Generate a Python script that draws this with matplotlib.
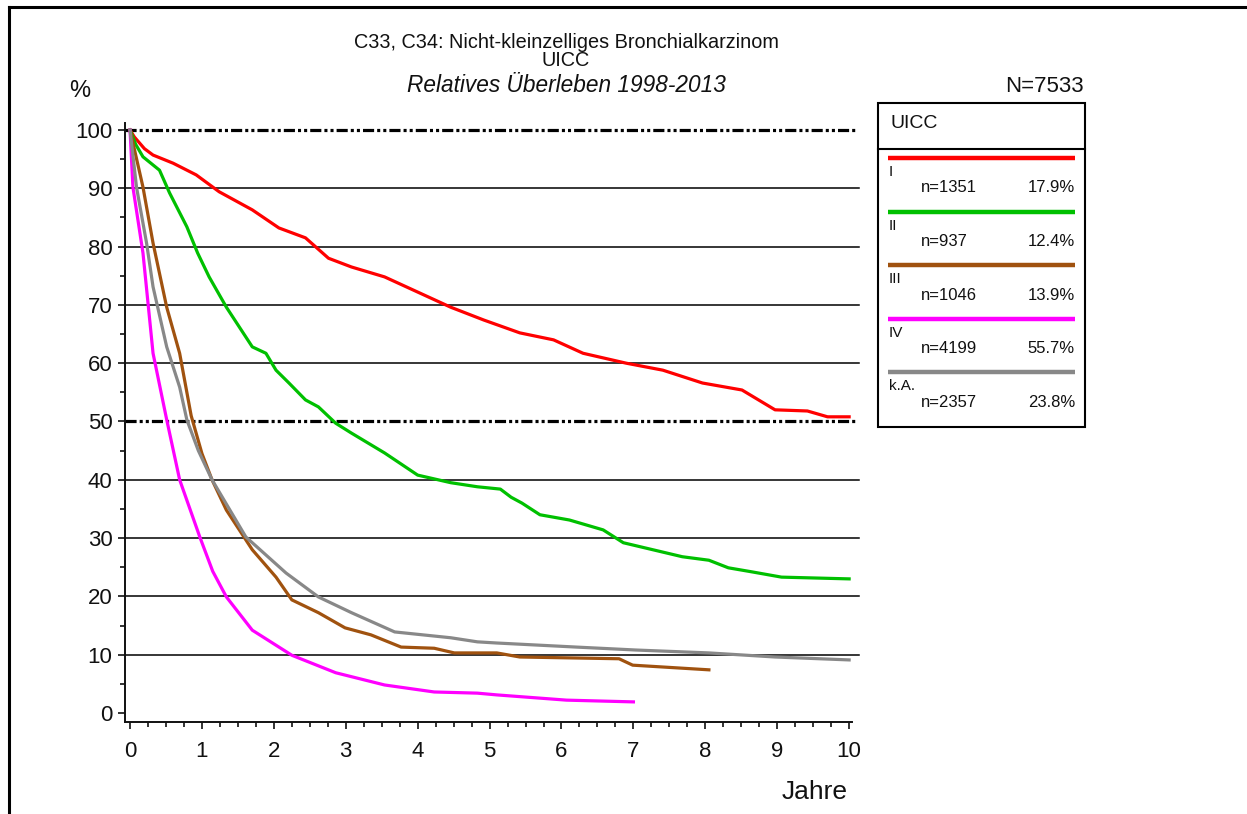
import matplotlib
matplotlib.use("Agg")
import matplotlib.pyplot as plt
from matplotlib.lines import Line2D
from matplotlib.patches import Rectangle
from matplotlib.ticker import MultipleLocator

plt.rcParams['font.family'] = ['Liberation Sans', 'DejaVu Sans']
plt.rcParams['lines.scale_dashes'] = False

# ---------------- data ----------------
title_lines = ["C33, C34: Nicht-kleinzelliges Bronchialkarzinom", "UICC", "Relatives Überleben 1998-2013"]
total_n = "N=7533"
legend_title = "UICC"
stages = ["I", "II", "III", "IV", "k.A."]
stage_n = [1351, 937, 1046, 4199, 2357]
stage_pct = ["17.9%", "12.4%", "13.9%", "55.7%", "23.8%"]
stage_colors = ["#ff0000", "#00c000", "#a0520f", "#ff00ff", "#888888"]

t_I = [0, 0.06, 0.20, 0.32, 0.60, 0.92, 1.24, 1.70, 2.07, 2.44, 2.76, 3.08, 3.54, 4.0, 4.46,
       4.92, 5.42, 5.89, 6.30, 6.90, 7.41, 7.96, 8.51, 8.97, 9.42, 9.70, 10.0]
s_I = [100, 98.8, 96.8, 95.7, 94.3, 92.3, 89.4, 86.3, 83.2, 81.5, 78.0, 76.5, 74.8, 72.2, 69.6,
       67.4, 65.2, 64.0, 61.7, 60.0, 58.8, 56.6, 55.4, 52.0, 51.8, 50.8, 50.8]

t_II = [0, 0.08, 0.18, 0.41, 0.55, 0.79, 0.94, 1.10, 1.34, 1.52, 1.70, 1.89, 2.03, 2.21, 2.44,
        2.62, 2.86, 3.08, 3.54, 4.0, 4.46, 4.83, 5.15, 5.30, 5.45, 5.70, 6.11, 6.58, 6.86, 7.27,
        7.68, 8.05, 8.32, 8.65, 9.06, 10.0]
s_II = [100, 97.5, 95.4, 93.1, 89.2, 83.4, 78.9, 74.8, 69.6, 66.2, 62.8, 61.7, 58.8, 56.6, 53.7,
        52.5, 49.7, 48.0, 44.6, 40.8, 39.5, 38.8, 38.4, 37.0, 36.0, 34.0, 33.1, 31.4, 29.2, 28.0,
        26.8, 26.2, 24.9, 24.2, 23.3, 23.0]

t_III = [0, 0.18, 0.32, 0.51, 0.69, 0.85, 1.00, 1.14, 1.34, 1.70, 2.03, 2.25, 2.62, 2.99, 3.35,
         3.77, 4.23, 4.51, 5.10, 5.42, 6.8, 6.99, 8.05]
s_III = [100, 90.2, 80.6, 69.6, 61.7, 51.0, 44.5, 40.0, 34.8, 28.0, 23.3, 19.4, 17.2, 14.6, 13.4,
         11.3, 11.1, 10.3, 10.3, 9.6, 9.3, 8.2, 7.4]

t_IV = [0, 0.04, 0.18, 0.32, 0.51, 0.69, 0.97, 1.15, 1.34, 1.70, 2.25, 2.86, 3.54, 4.23, 4.83,
        5.10, 6.07, 7.0]
s_IV = [100, 90.2, 78.9, 61.7, 50.3, 40.0, 30.2, 24.3, 19.9, 14.2, 9.9, 6.9, 4.8, 3.6, 3.4,
        3.1, 2.2, 1.9]

t_kA = [0, 0.09, 0.23, 0.32, 0.51, 0.69, 0.79, 0.95, 1.14, 1.61, 2.17, 2.62, 3.08, 3.68, 4.46,
        4.83, 5.10, 6.21, 7.03, 8.05, 8.97, 10.0]
s_kA = [100, 90.2, 80.6, 73.1, 62.8, 55.9, 50.3, 45.0, 40.0, 30.2, 24.0, 19.9, 17.2, 13.9, 12.9,
        12.2, 12.0, 11.3, 10.8, 10.3, 9.6, 9.1]

curves_t = [t_I, t_II, t_III, t_IV, t_kA]
curves_s = [s_I, s_II, s_III, s_IV, s_kA]

solid_grid = [10, 20, 30, 40, 60, 70, 80, 90]
dashed_grid = [50, 100]

# ---------------- figure ----------------
W, H = 1247, 814
fig = plt.figure(figsize=(W / 100, H / 100), dpi=100)


def fx(x):
    return x / W


def fy(y):
    return 1 - y / H


ax = fig.add_axes([fx(125), fy(722), fx(852) - fx(125), fy(123) - fy(722)])
ax.set_xlim(-0.07, 10.04)
ax.set_ylim(-1.55, 101.2)
ax.set_facecolor('none')
for s in ['top', 'right']:
    ax.spines[s].set_visible(False)
for s in ['left', 'bottom']:
    ax.spines[s].set_linewidth(1.4)
    ax.spines[s].set_color('#111111')

ax.xaxis.set_major_locator(MultipleLocator(1))
ax.xaxis.set_minor_locator(MultipleLocator(0.25))
ax.yaxis.set_major_locator(MultipleLocator(10))
ax.yaxis.set_minor_locator(MultipleLocator(5))
ax.tick_params(which='major', direction='out', length=5, width=1.2, labelsize=16,
               colors='#111111')
ax.tick_params(which='minor', direction='out', length=3.5, width=1.2, colors='#111111')
ax.tick_params(axis='x', pad=9)
ax.tick_params(axis='y', pad=4)

# grid lines
for g in solid_grid:
    ax.plot([-0.07, 10.14], [g, g], color='black', lw=1.1, clip_on=False, zorder=1)
for g in dashed_grid:
    ax.plot([-0.07, 10.11], [g, g], color='black', lw=2.3, clip_on=False, zorder=1,
            dashes=[8, 2.2, 2.2, 2.2, 2.2, 2.2])

for t, s, c in zip(curves_t, curves_s, stage_colors):
    ax.plot(t, s, color=c, lw=2.3, zorder=3, solid_joinstyle='round')

# ---------------- texts ----------------
title_baselines = [48.5, 66, 92]
title_sizes = [14.3, 14.3, 16.3]
for i, (line, yb, fs) in enumerate(zip(title_lines, title_baselines, title_sizes)):
    fig.text(fx(566), fy(yb), line, ha='center', va='baseline', fontsize=fs,
             style='italic' if i == 2 else 'normal', color='#111111')

fig.text(fx(69), fy(97), "%", ha='left', va='baseline', fontsize=17, color='#111111')
fig.text(fx(1084), fy(92), total_n, ha='right', va='baseline', fontsize=16, color='#111111')
fig.text(fx(848), fy(799), "Jahre", ha='right', va='baseline', fontsize=19, color='#111111')

# ---------------- legend box ----------------
fig.add_artist(Rectangle((fx(878), fy(427)), fx(1085) - fx(878), fy(103) - fy(427),
                         transform=fig.transFigure, fill=False, edgecolor='black', lw=1.5))
fig.add_artist(Line2D([fx(878), fx(1085)], [fy(149), fy(149)], transform=fig.transFigure,
                      color='black', lw=1.5))
fig.text(fx(890), fy(123), legend_title, ha='left', va='center', fontsize=14, color='#111111')

step = 53.5
for i, (lab, n, p, c) in enumerate(zip(stages, stage_n, stage_pct, stage_colors)):
    y0 = 158 + step * i
    fig.add_artist(Line2D([fx(888), fx(1075)], [fy(y0), fy(y0)], transform=fig.transFigure,
                          color=c, lw=3.2, solid_capstyle='butt'))
    fig.text(fx(889), fy(y0 + 18), lab, ha='left', va='baseline', fontsize=11, color='#111111')
    fig.text(fx(921), fy(y0 + 34.5), f"n={n}", ha='left', va='baseline', fontsize=12,
             color='#111111')
    fig.text(fx(1075), fy(y0 + 34.5), p, ha='right', va='baseline', fontsize=12,
             color='#111111')

# ---------------- outer frame ----------------
fig.add_artist(Line2D([fx(9), fx(1250)], [fy(7), fy(7)], transform=fig.transFigure,
                      color='black', lw=2.2))
fig.add_artist(Line2D([fx(9), fx(9)], [fy(7), fy(820)], transform=fig.transFigure,
                      color='black', lw=2.2))

fig.savefig("out.png", dpi=100)
